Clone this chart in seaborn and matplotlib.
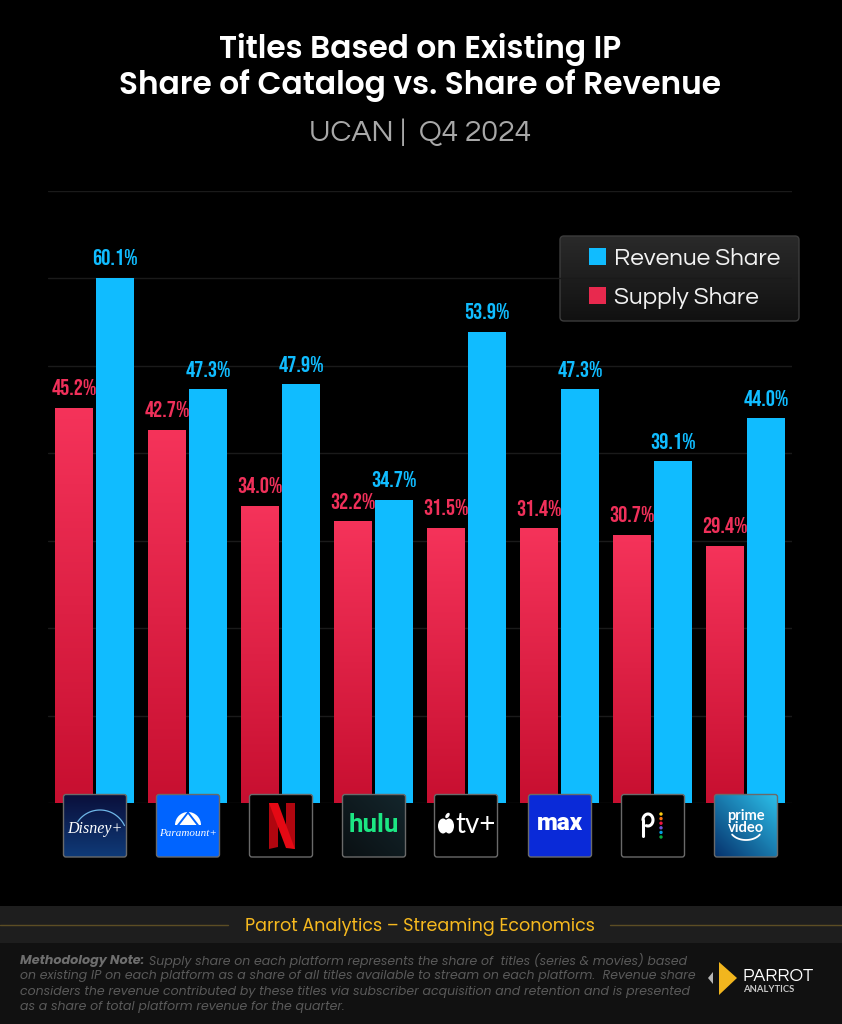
import numpy as np
import pandas as pd
import seaborn as sns
import matplotlib.pyplot as plt
from matplotlib.patches import FancyBboxPatch, Polygon, Rectangle, Ellipse, Wedge, Circle
from matplotlib.colors import LinearSegmentedColormap
import logging

logging.getLogger('matplotlib.font_manager').setLevel(logging.ERROR)

# chart values
platforms = ['Disney+', 'Paramount+', 'Netflix', 'Hulu', 'Apple TV+', 'Max', 'Peacock', 'Prime Video']
supply_share = [45.2, 42.7, 34.0, 32.2, 31.5, 31.4, 30.7, 29.4]
revenue_share = [60.1, 47.3, 47.9, 34.7, 53.9, 47.3, 39.1, 44.0]
grid_ticks = [0, 10, 20, 30, 40, 50, 60, 70]

W, H = 842, 1024
TITLE_FONT = ['Poppins', 'Lato', 'DejaVu Sans']
BODY_FONT = ['Questrial', 'Lato', 'DejaVu Sans']
NOTE_FONT = ['Poppins', 'Lato', 'DejaVu Sans']
VALUE_FONT = ['Bebas Neue', 'Liberation Sans Narrow', 'Roboto']

sns.set_theme(style='dark')
plt.rcParams['font.family'] = ['Lato', 'DejaVu Sans']

data = pd.DataFrame({'Platform': platforms, 'Supply Share': supply_share, 'Revenue Share': revenue_share})
data = data.melt(id_vars='Platform', var_name='Series', value_name='Share')

fig = plt.figure(figsize=(W / 100, H / 100), dpi=100, facecolor='black')


def pixel_axes(z):
    # full figure axes, coordinates are image pixels
    a = fig.add_axes([0, 0, 1, 1], zorder=z)
    a.set_xlim(0, W)
    a.set_ylim(H, 0)
    a.axis('off')
    a.patch.set_alpha(0)
    return a


def gradient(a, box, c1, c2, clip=None, angle='v'):
    cmap = LinearSegmentedColormap.from_list('g', [c1, c2])
    ramp = np.linspace(0, 1, 128).reshape(-1, 1)
    if angle == 'd':
        xx, yy = np.meshgrid(np.linspace(0, 1, 64), np.linspace(0, 1, 64))
        ramp = (1 - xx + yy) / 2
    im = a.imshow(ramp, extent=box, aspect='auto', cmap=cmap, vmin=0, vmax=1, origin='upper', zorder=2)
    if clip is not None:
        im.set_clip_path(clip)
    return im


bg = pixel_axes(0)
bg.add_patch(Rectangle((0, 906), W, 37, color='#1e1e1e', lw=0))
bg.add_patch(Rectangle((0, 943), W, 81, color='#111111', lw=0))
bg.plot([0, 228], [925, 925], color='#5c4d24', lw=1)
bg.plot([610, 842], [925, 925], color='#5c4d24', lw=1)
legend_box = FancyBboxPatch((560, 236), 239, 85, boxstyle='round,pad=0,rounding_size=4',
                            fc='none', ec='#3c3c3c', lw=1, zorder=3)
bg.add_patch(legend_box)
gradient(bg, (560, 799, 321, 236), '#2a2a2a', '#111111', clip=legend_box)
bg.set_xlim(0, W)
bg.set_ylim(H, 0)

# main chart
ax = fig.add_axes([48 / W, (H - 803) / H, 744 / W, 612 / H], zorder=1)
ax.patch.set_alpha(0)
sns.barplot(data=data, x='Platform', y='Share', hue='Series', order=platforms,
            hue_order=['Supply Share', 'Revenue Share'],
            palette={'Supply Share': '#e8294e', 'Revenue Share': '#10bcff'},
            width=0.88, gap=0.085, saturation=1, errorbar=None, linewidth=0, edgecolor='none', ax=ax)
ax.set_xlim(-0.5, 7.5)
ax.set_ylim(0, 70)
ax.set_yticks(grid_ticks)
ax.set_xticks([])
ax.set_xlabel('')
ax.set_ylabel('')
ax.tick_params(left=False, bottom=False, labelleft=False)
ax.grid(axis='y', color='#1a1a1a', lw=1)
ax.set_axisbelow(True)
sns.despine(ax=ax, left=True, bottom=True, top=True, right=True)

for bar in ax.containers[0]:
    x0, y0 = bar.get_x(), bar.get_y()
    gradient(ax, (x0, x0 + bar.get_width(), y0, y0 + bar.get_height()), '#f5335a', '#c70f30', clip=bar)
ax.set_xlim(-0.5, 7.5)
ax.set_ylim(0, 70)

ax.bar_label(ax.containers[0], fmt='%.1f%%', padding=9, color='#f0305a', fontsize=16.6, family=VALUE_FONT)
ax.bar_label(ax.containers[1], fmt='%.1f%%', padding=9, color='#10bcff', fontsize=16.6, family=VALUE_FONT)

handles, labels = ax.get_legend_handles_labels()
leg = ax.legend(handles[::-1], labels[::-1], frameon=False, labelcolor='#f2f2f2',
                prop={'family': BODY_FONT, 'size': 17.5},
                loc='upper left', bbox_to_anchor=(582 / W, 1 - 241 / H), bbox_transform=fig.transFigure,
                handlelength=0.7, handleheight=0.7, handletextpad=0.3, labelspacing=0.68,
                borderpad=0.3, borderaxespad=0)

# titles and footer text
top = pixel_axes(3)
top.text(420, 50, 'Titles Based on Existing IP', color='white', fontsize=22.5, fontweight='semibold',
         family=TITLE_FONT, ha='center', va='center')
top.text(420, 86, 'Share of Catalog vs. Share of Revenue', color='white', fontsize=22.5, fontweight='semibold',
         family=TITLE_FONT, ha='center', va='center')
top.text(420, 133, 'UCAN |  Q4 2024', color='#a8a8a8', fontsize=21.8, family=BODY_FONT, ha='center', va='center')
top.text(420, 926.5, 'Parrot Analytics – Streaming Economics', color='#f6b91f', fontsize=12.6, family=TITLE_FONT,
         ha='center', va='center')

note_lines = ['Supply share on each platform represents the share of  titles (series & movies) based',
              'on existing IP on each platform as a share of all titles available to stream on each platform.  Revenue share',
              'considers the revenue contributed by these titles via subscriber acquisition and retention and is presented',
              'as a share of total platform revenue for the quarter.']
note_y = [961, 976.5, 992, 1007]
top.text(20, note_y[0], 'Methodology Note:', color='#6e6e6e', fontsize=9.2, fontweight='bold',
         fontstyle='italic', family=NOTE_FONT, va='center')
top.text(149, note_y[0], note_lines[0], color='#5a5a5a', fontsize=9, fontstyle='italic', family=NOTE_FONT, va='center')
for line, y in zip(note_lines[1:], note_y[1:]):
    top.text(20, y, line, color='#5a5a5a', fontsize=9, fontstyle='italic', family=NOTE_FONT, va='center')

# parrot logo
top.add_patch(Polygon([(719, 962), (719, 995), (737, 978)], color='#f2b61e', lw=0))
top.add_patch(Polygon([(713, 972), (708, 978), (713, 984)], color='#b5b5b5', lw=0))
top.text(743, 977, 'PARROT', color='white', fontsize=13, family=BODY_FONT, va='center')
top.text(743, 990, 'ANALYTICS', color='#c8c8c8', fontsize=6.8, fontweight='bold', va='center')


# logos under the bars
def logo_box(x, c1='#000000', c2=None, angle='v'):
    box = FancyBboxPatch((x, 794.5), 63, 62.5, boxstyle='round,pad=0,rounding_size=2.5',
                         fc=c1, ec='#6a6a6a', lw=1, zorder=3)
    top.add_patch(box)
    if c2 is not None:
        box.set_facecolor('none')
        gradient(top, (x, x + 63, 857, 794.5), c1, c2, clip=box, angle=angle)
    return x + 31.5


def curve(cx, cy, rx, ry, a1, a2, **kw):
    # elliptical stroke for the logo details, angles measured on screen
    t = np.radians(np.linspace(a1, a2, 40))
    top.plot(cx + rx * np.cos(t), cy + ry * np.sin(t), zorder=5, solid_capstyle='round', **kw)


# Disney+
c = logo_box(63.5, '#0a0f3a', '#0f3a78')
curve(c + 5, 837, 27, 27, -145, -25, color='#6fb7e8', lw=0.9)
top.text(c, 829, 'Disney+', color='white', fontsize=11.5, family=['Liberation Serif', 'DejaVu Serif'],
         fontstyle='italic', ha='center', va='center', zorder=5)

# Paramount+
c = logo_box(156.5, '#0064ff')
top.add_patch(Wedge((c, 825), 13, 180, 360, color='white', lw=0, zorder=5))
top.add_patch(Polygon([(c - 11, 825), (c, 811), (c + 11, 825)], color='#0064ff', lw=0, zorder=5))
top.add_patch(Polygon([(c - 8.5, 825), (c, 814), (c + 8.5, 825)], color='white', lw=0, zorder=5))
top.text(c, 834, 'Paramount+', color='white', fontsize=8, family=['Liberation Serif', 'DejaVu Serif'],
         fontstyle='italic', ha='center', va='center', zorder=5)

# Netflix
c = logo_box(249.5)
top.add_patch(Polygon([(269, 803), (278, 803), (278, 847), (269, 849)], color='#b0060f', lw=0, zorder=5))
top.add_patch(Polygon([(286, 803), (295, 803), (295, 849), (286, 847)], color='#b0060f', lw=0, zorder=5))
top.add_patch(Polygon([(269, 803), (278, 803), (295, 849), (286, 848)], color='#e50914', lw=0, zorder=6))

# Hulu
c = logo_box(342.5, '#14262c', '#0a1013', angle='d')
top.text(c, 825, 'hulu', color='#1ce783', fontsize=18.5, fontweight='bold', family='Roboto',
         ha='center', va='center', zorder=5)

# Apple TV+
c = logo_box(434.5)
top.add_patch(Ellipse((c - 23, 826), 10, 15, color='white', lw=0, zorder=5))
top.add_patch(Ellipse((c - 17, 826), 10, 15, color='white', lw=0, zorder=5))
top.add_patch(Ellipse((c - 18.5, 815.5), 3.5, 6, angle=35, color='white', lw=0, zorder=5))
top.text(c + 10, 825, 'tv+', color='white', fontsize=20, family='Lato', ha='center', va='center', zorder=5)

# Max
c = logo_box(528.5, '#0a2ad8')
top.text(c, 824, 'max', color='white', fontsize=17.5, fontweight='black', family='Roboto',
         ha='center', va='center', zorder=5)

# Peacock
c = logo_box(621.5)
curve(648, 820, 5, 6, -180, 110, color='white', lw=2.2)
top.plot([643, 643], [820, 836], color='white', lw=2.2, zorder=5, solid_capstyle='round')
dot_colors = ['#fccc12', '#ff7112', '#ef1541', '#6e55dc', '#069de0', '#05ac3f']
for k, col in enumerate(dot_colors):
    top.add_patch(Circle((661, 814 + k * 4.6), 1.7, color=col, lw=0, zorder=5))

# Prime Video
c = logo_box(714.5, '#2cc0ea', '#06336e', angle='d')
top.text(c, 816, 'prime', color='white', fontsize=10.5, fontweight='bold', ha='center', va='center', zorder=5)
top.text(c, 828, 'video', color='white', fontsize=10.5, fontweight='bold', ha='center', va='center', zorder=5)
curve(c, 829, 16, 11, 30, 150, color='white', lw=1.3)

top.set_xlim(0, W)
top.set_ylim(H, 0)

plt.savefig('out.png', dpi=100, facecolor='black')
